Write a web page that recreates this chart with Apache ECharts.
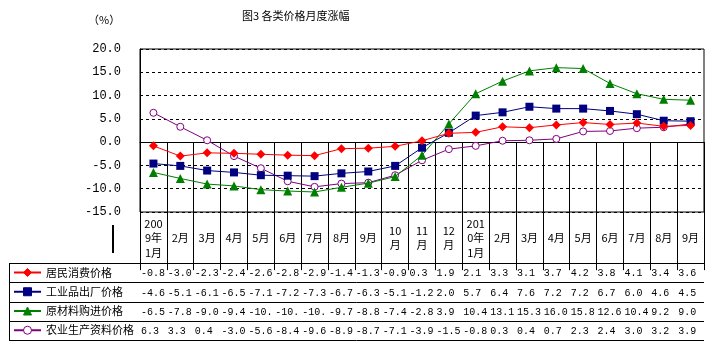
<!DOCTYPE html>
<html><head><meta charset="utf-8">
<script src="https://cdn.jsdelivr.net/npm/echarts@6/dist/echarts.min.js"></script>
<style>html,body{margin:0;padding:0;background:#fff}#c{width:726px;height:358px}</style>
</head><body><div id="c"></div>
<script>
const categories = ['200\n9年\n1月','2月','3月','4月','5月','6月','7月','8月','9月','10\n月','11\n月','12\n月','201\n0年\n1月','2月','3月','4月','5月','6月','7月','8月','9月'];
const seriesNames = ['居民消费价格','工业品出厂价格','原材料购进价格','农业生产资料价格'];
const cpi  = [-0.8,-3.0,-2.3,-2.4,-2.6,-2.8,-2.9,-1.4,-1.3,-0.9,0.3,1.9,2.1,3.3,3.1,3.7,4.2,3.8,4.1,3.4,3.6];
const ppi  = [-4.6,-5.1,-6.1,-6.5,-7.1,-7.2,-7.3,-6.7,-6.3,-5.1,-1.2,2.0,5.7,6.4,7.6,7.2,7.2,6.7,6.0,4.6,4.5];
const raw  = [-6.5,-7.8,-9.0,-9.4,-10.2,-10.5,-10.7,-9.7,-8.8,-7.4,-2.8,3.9,10.4,13.1,15.3,16.0,15.8,12.6,10.4,9.2,9.0];
const agri = [6.3,3.3,0.4,-3.0,-5.6,-8.4,-9.6,-8.9,-8.7,-7.1,-3.9,-1.5,-0.8,0.3,0.4,0.7,2.3,2.4,3.0,3.2,3.9];
const yMin = -15, yMax = 20, yStep = 5;

const colors = ['#FF0000','#000080','#008000','#800080'];
const symbols = ['diamond','rect','triangle','circle'];
const symbolSizes = [9,8,9,7];
const dataRows = [cpi, ppi, raw, agri];

const CJK = '"Noto Sans CJK SC", sans-serif';
const MONO = '"Liberation Mono","DejaVu Sans Mono", monospace';

const headerH = 51, rowH = 19.25, tableLeft = 9;

const chart = echarts.init(document.getElementById('c'), null, {renderer:'canvas'});
const option = {
  animation: false,
  backgroundColor: '#fff',
  aria: {enabled: false, decal: {show: false}},
  title: {
    text: '图3 各类价格月度涨幅', left: 242, top: 10, padding: 0,
    textStyle: {fontFamily: CJK, fontSize: 11, fontWeight: 'normal', color: '#000'}
  },
  grid: {left: 140, right: 22, top: 49, bottom: 146, show: true, borderColor: '#000', borderWidth: 1, backgroundColor: 'transparent'},
  legend: {
    orient: 'vertical', left: 13, top: 267, padding: 0, itemWidth: 27, itemHeight: 10, itemGap: 8.25,
    selectedMode: false, data: seriesNames,
    itemStyle: {borderWidth: 1},
    textStyle: {fontFamily: CJK, fontSize: 11, color: '#000', lineHeight: 10}
  },
  xAxis: {
    type: 'category', data: categories, boundaryGap: true,
    axisLine: {show: true, lineStyle: {color: '#000', width: 1}},
    axisTick: {show: true, interval: 0, length: headerH + 4*rowH, lineStyle: {color: '#000', width: 1}},
    axisLabel: {interval: 0, margin: 26, verticalAlign: 'middle', fontFamily: CJK, fontSize: 11, lineHeight: 14.5, color: '#000'},
    splitLine: {show: false}
  },
  yAxis: {
    type: 'value', min: yMin, max: yMax, interval: yStep,
    axisLine: {show: true, lineStyle: {color: '#000'}},
    axisTick: {show: false},
    axisLabel: {margin: 19, formatter: v => v.toFixed(1), fontFamily: MONO, fontSize: 12, color: '#000'},
    splitLine: {show: true, lineStyle: {color: '#000', type: [3,3], width: 1}}
  },
  series: seriesNames.map((n, i) => ({
    name: n, type: 'line', data: dataRows[i],
    symbol: symbols[i], symbolSize: symbolSizes[i],
    showSymbol: true, showAllSymbol: true,
    lineStyle: {color: colors[i], width: 1, type: 'solid'},
    itemStyle: {color: i === 3 ? '#fff' : colors[i], borderColor: colors[i], borderWidth: i === 3 ? 1 : 0, borderType: 'solid', decal: null},
    z: 10 - i,
    markLine: i === 0 ? {silent: true, symbol: 'none', label: {show: false}, lineStyle: {color: '#000', type: 'solid', width: 1}, data: [{yAxis: 0}]} : undefined
  }))
};
chart.setOption(option);

const xa = i => chart.convertToPixel({xAxisIndex: 0}, i);
const band = xa(1) - xa(0);
const gRight = xa(categories.length - 1) + band / 2;
const yBottom = chart.convertToPixel({yAxisIndex: 0}, yMin);
const rowTop = yBottom + headerH;
const graphics = [];
for (let r = 0; r <= 4; r++) {
  const y = Math.round(rowTop + r * rowH) + 0.5;
  graphics.push({type: 'line', shape: {x1: tableLeft, y1: y, x2: gRight, y2: y}, style: {stroke: '#000', lineWidth: 1}, silent: true});
}
graphics.push({type: 'line', shape: {x1: tableLeft + 0.5, y1: Math.round(rowTop) + 0.5, x2: tableLeft + 0.5, y2: Math.round(rowTop + 4 * rowH) + 0.5}, style: {stroke: '#000', lineWidth: 1}, silent: true});
dataRows.forEach((row, r) => {
  row.forEach((v, i) => {
    graphics.push({
      type: 'text', silent: true,
      x: xa(i) - band / 2 + 1, y: rowTop + r * rowH + rowH / 2 + 1,
      style: {text: v.toFixed(1).slice(0, 4), fontFamily: MONO, fontSize: 10, fill: '#000', textVerticalAlign: 'middle', textAlign: 'left'}
    });
  });
});
graphics.push({type: 'rect', shape: {x: 112, y: yBottom + 13, width: 2, height: 28}, style: {fill: '#000'}, silent: true});
graphics.push({type: 'text', x: 88, y: 14, style: {text: '（%）', fontFamily: CJK, fontSize: 11, fill: '#000'}, silent: true});
chart.setOption({graphic: graphics});
</script>
</body></html>
